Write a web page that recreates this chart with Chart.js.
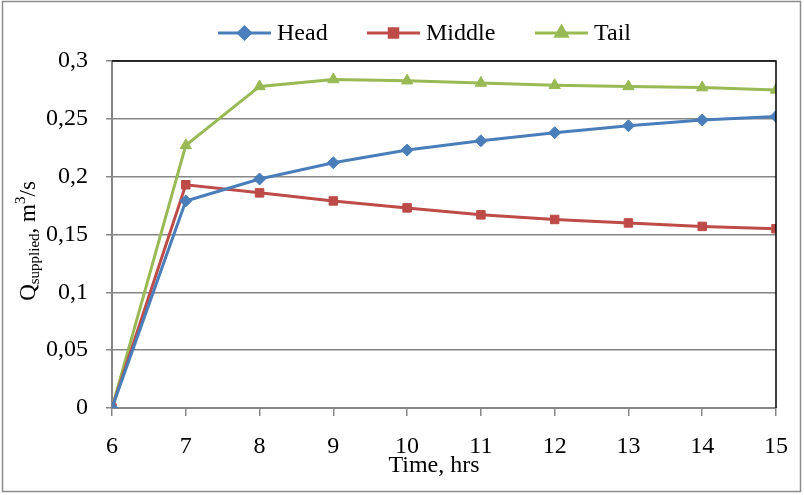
<!DOCTYPE html>
<html>
<head>
<meta charset="utf-8">
<script src="https://cdn.jsdelivr.net/npm/chart.js@4.4.1/dist/chart.umd.min.js"></script>
<style>
  html, body { margin: 0; padding: 0; background: #fff; }
  #wrap { width: 804px; height: 495px; }
</style>
</head>
<body>
<div id="wrap"><canvas id="grafico" width="804" height="495"></canvas></div>
<script>
// data
var horas = [6, 7, 8, 9, 10, 11, 12, 13, 14, 15];
var head = [0, 0.179, 0.198, 0.212, 0.223, 0.231, 0.238, 0.244, 0.249, 0.252];
var middle = [0, 0.193, 0.186, 0.179, 0.173, 0.167, 0.163, 0.160, 0.157, 0.155];
var tail = [0, 0.227, 0.278, 0.284, 0.283, 0.281, 0.279, 0.278, 0.277, 0.275];
var yTicks = [0, 0.05, 0.1, 0.15, 0.2, 0.25, 0.3];

var FONT = '"Liberation Serif", "Times New Roman", serif';

function puntos(valores) {
  return horas.map(function (h, i) { return { x: h, y: valores[i] }; });
}

var series = [
  { label: 'Head', data: head, color: '#4a7ebb', style: 'rectRot', radius: 6 },
  { label: 'Middle', data: middle, color: '#be4b48', style: 'rect', radius: 6 },
  { label: 'Tail', data: tail, color: '#98b954', style: 'triangle', radius: 6.5 }
];

// leyenda, ejes y marco dibujados a mano
var extras = {
  id: 'extras',
  afterDraw: function (chart) {
    var c = chart.ctx;
    var area = chart.chartArea;
    c.save();

    // marco exterior
    c.strokeStyle = '#8c8c8c';
    c.lineWidth = 1.5;
    c.strokeRect(2.5, 1.5, 798, 490);

    // borde superior y derecho del area
    c.strokeStyle = '#000';
    c.lineWidth = 1.5;
    c.beginPath();
    c.moveTo(area.left, area.top);
    c.lineTo(area.right, area.top);
    c.lineTo(area.right, area.bottom);
    c.stroke();

    // leyenda
    var posiciones = [218, 367, 535];
    c.font = '24px ' + FONT;
    c.textBaseline = 'middle';
    c.textAlign = 'left';
    series.forEach(function (s, i) {
      var x0 = posiciones[i];
      var y = 33;
      c.strokeStyle = s.color;
      c.lineWidth = 3;
      c.beginPath();
      c.moveTo(x0, y);
      c.lineTo(x0 + 53, y);
      c.stroke();
      c.fillStyle = s.color;
      Chart.helpers.drawPoint(c, { pointStyle: s.style, radius: s.radius, borderWidth: 1 }, x0 + 26.5, y);
      c.fillStyle = '#000';
      c.fillText(s.label, x0 + 59, y + 1);
    });

    // titulo eje x
    c.textAlign = 'center';
    c.fillText('Time, hrs', 434, 466);

    // titulo eje y con subindice y superindice
    c.translate(29, 241);
    c.rotate(-Math.PI / 2);
    var partes = [
      { t: 'Q', f: 23, dy: 0 },
      { t: 'supplied', f: 15, dy: 6 },
      { t: ', m', f: 23, dy: 0 },
      { t: '3', f: 15, dy: -8 },
      { t: '/s', f: 23, dy: 0 }
    ];
    var total = 0;
    partes.forEach(function (p) {
      c.font = p.f + 'px ' + FONT;
      p.w = c.measureText(p.t).width;
      total += p.w;
    });
    var x = -total / 2;
    c.textAlign = 'left';
    partes.forEach(function (p) {
      c.font = p.f + 'px ' + FONT;
      c.fillText(p.t, x, p.dy);
      x += p.w;
    });

    c.restore();
  }
};

var ctx = document.getElementById('grafico').getContext('2d');
var chart = new Chart(ctx, {
  type: 'line',
  data: {
    datasets: series.map(function (s) {
      return {
        label: s.label,
        data: puntos(s.data),
        borderColor: s.color,
        backgroundColor: s.color,
        pointStyle: s.style,
        pointRadius: s.radius,
        pointBorderWidth: 1,
        borderWidth: 3,
        tension: 0,
        fill: false
      };
    })
  },
  options: {
    responsive: false,
    animation: false,
    layout: { padding: { left: 0, right: 27, top: 61, bottom: 0 } },
    plugins: {
      legend: { display: false },
      tooltip: { enabled: false }
    },
    scales: {
      x: {
        type: 'linear',
        min: 6,
        max: 15,
        afterFit: function (scale) { scale.height = 87; },
        ticks: {
          stepSize: 1,
          padding: 16,
          color: '#000',
          font: { family: FONT, size: 24 }
        },
        grid: {
          drawOnChartArea: false,
          drawTicks: true,
          tickLength: 8,
          color: '#868686',
          lineWidth: 1.5
        },
        border: { color: '#868686', width: 2 }
      },
      y: {
        min: 0,
        max: 0.3,
        afterFit: function (scale) { scale.width = 112; },
        afterBuildTicks: function (scale) {
          scale.ticks = yTicks.map(function (v) { return { value: v }; });
        },
        ticks: {
          padding: 18,
          color: '#000',
          font: { family: FONT, size: 24 },
          callback: function (v) { return String(v).replace('.', ','); }
        },
        grid: {
          drawTicks: true,
          tickLength: 6,
          color: '#868686',
          lineWidth: 1.5
        },
        border: { color: '#868686', width: 2 }
      }
    }
  },
  plugins: [extras]
});
</script>
</body>
</html>
